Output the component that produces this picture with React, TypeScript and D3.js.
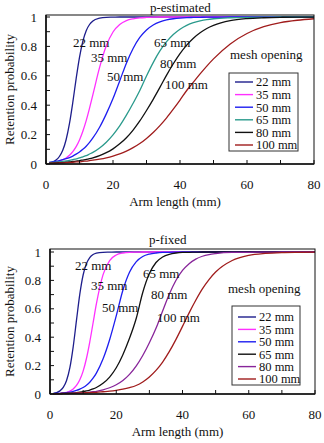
import React from 'react';
import * as d3 from 'd3';

// arm lengths (mm) at which every retention curve is sampled
const ARM_LENGTH = [1, 2, 3, 4, 5, 6, 7, 8, 9, 10, 11, 12, 13, 14,
  16, 18, 20, 22, 24, 26, 28, 30, 32, 34, 36, 38, 40, 42, 44, 46, 48, 50,
  55, 60, 65, 70, 75, 80];

const MESH = ['22 mm', '35 mm', '50 mm', '65 mm', '80 mm', '100 mm'];

// p-estimated
const EST_22 = [0.008, 0.014, 0.027, 0.051, 0.093, 0.165, 0.274, 0.419, 0.581, 0.726, 0.835, 0.907, 0.949, 0.973,
  0.992, 0.998, 0.999, 1, 1, 1, 1, 1, 1, 1, 1, 1, 1, 1, 1, 1, 1, 1,
  1, 1, 1, 1, 1, 1];
const EST_35 = [0.006, 0.009, 0.014, 0.020, 0.029, 0.041, 0.059, 0.084, 0.118, 0.164, 0.223, 0.295, 0.380, 0.472,
  0.657, 0.804, 0.898, 0.949, 0.976, 0.988, 0.994, 0.997, 0.999, 1, 1, 1, 1, 1, 1, 1, 1, 1,
  1, 1, 1, 1, 1, 1];
const EST_50 = [0.012, 0.015, 0.019, 0.023, 0.029, 0.036, 0.044, 0.054, 0.067, 0.082, 0.100, 0.121, 0.147, 0.177,
  0.250, 0.341, 0.445, 0.565, 0.686, 0.786, 0.861, 0.912, 0.946, 0.967, 0.980, 0.988, 0.993, 0.996, 0.997, 0.998, 0.999, 0.999,
  1, 1, 1, 1, 1, 1];
const EST_65 = [0.009, 0.011, 0.012, 0.015, 0.018, 0.021, 0.025, 0.029, 0.035, 0.041, 0.049, 0.057, 0.068, 0.079,
  0.109, 0.148, 0.198, 0.259, 0.332, 0.413, 0.500, 0.599, 0.690, 0.769, 0.832, 0.881, 0.917, 0.943, 0.961, 0.973, 0.982, 0.988,
  0.995, 0.998, 0.999, 1, 1, 1];
const EST_80 = [0.006, 0.006, 0.008, 0.009, 0.010, 0.012, 0.014, 0.017, 0.020, 0.023, 0.027, 0.031, 0.036, 0.042,
  0.057, 0.077, 0.103, 0.137, 0.179, 0.231, 0.293, 0.364, 0.440, 0.521, 0.605, 0.682, 0.751, 0.809, 0.856, 0.893, 0.922, 0.943,
  0.975, 0.989, 0.995, 0.998, 0.999, 0.999];
const EST_100 = [0.005, 0.006, 0.006, 0.007, 0.008, 0.009, 0.011, 0.012, 0.014, 0.015, 0.018, 0.020, 0.023, 0.026,
  0.033, 0.042, 0.054, 0.069, 0.088, 0.111, 0.139, 0.174, 0.214, 0.261, 0.314, 0.373, 0.435, 0.500, 0.557, 0.613, 0.666, 0.715,
  0.817, 0.888, 0.934, 0.962, 0.978, 0.988];

// p-fixed
const FIX_22 = [0.005, 0.010, 0.022, 0.046, 0.095, 0.185, 0.332, 0.520, 0.703, 0.838, 0.918, 0.961, 0.982, 0.992,
  0.998, 0.999, 1, 1, 1, 1, 1, 1, 1, 1, 1, 1, 1, 1, 1, 1, 1, 1,
  1, 1, 1, 1, 1, 1];
const FIX_35 = [0.001, 0.002, 0.004, 0.007, 0.012, 0.021, 0.036, 0.060, 0.100, 0.161, 0.250, 0.366, 0.500, 0.634,
  0.839, 0.940, 0.979, 0.993, 0.998, 0.999, 1, 1, 1, 1, 1, 1, 1, 1, 1, 1, 1, 1,
  1, 1, 1, 1, 1, 1];
const FIX_50 = [0.003, 0.004, 0.005, 0.007, 0.010, 0.013, 0.018, 0.025, 0.034, 0.046, 0.062, 0.083, 0.111, 0.147,
  0.246, 0.382, 0.550, 0.731, 0.858, 0.931, 0.968, 0.985, 0.993, 0.997, 0.998, 0.999, 1, 1, 1, 1, 1, 1,
  1, 1, 1, 1, 1, 1];
const FIX_65 = [0.002, 0.002, 0.003, 0.004, 0.005, 0.006, 0.008, 0.010, 0.013, 0.017, 0.022, 0.028, 0.036, 0.046,
  0.075, 0.119, 0.185, 0.277, 0.392, 0.530, 0.715, 0.848, 0.926, 0.965, 0.984, 0.993, 0.997, 0.998, 0.999, 1, 1, 1,
  1, 1, 1, 1, 1, 1];
const FIX_80 = [0.001, 0.002, 0.002, 0.002, 0.003, 0.004, 0.005, 0.006, 0.007, 0.008, 0.010, 0.013, 0.016, 0.019,
  0.029, 0.044, 0.065, 0.095, 0.138, 0.196, 0.271, 0.361, 0.463, 0.584, 0.702, 0.799, 0.870, 0.918, 0.950, 0.970, 0.982, 0.989,
  0.997, 0.998, 0.999, 1, 1, 1];
const FIX_100 = [0.002, 0.003, 0.003, 0.004, 0.004, 0.005, 0.005, 0.006, 0.007, 0.008, 0.009, 0.010, 0.011, 0.012,
  0.016, 0.020, 0.026, 0.034, 0.045, 0.060, 0.085, 0.120, 0.166, 0.225, 0.298, 0.383, 0.476, 0.571, 0.660, 0.740, 0.806, 0.859,
  0.940, 0.976, 0.990, 0.996, 0.998, 0.999];

const Y_TICKS = [0, 0.2, 0.4, 0.6, 0.8, 1];
const X_TICKS = [0, 20, 40, 60, 80];

const EST_COLORS = ['#1e1e8c', '#ff30ff', '#1e1ef0', '#2a9a8c', '#111111', '#a01c1c'];
const FIX_COLORS = ['#1e1e8c', '#ff30ff', '#1e1ef0', '#111111', '#88259a', '#a01c1c'];

const FONT = '"Liberation Serif", "Times New Roman", serif';

type Frame = { left: number; right: number; top: number; y1: number; bottom: number };

function Panel({ title, titleX, titleY, series, colors, frame, curveLabels, legend, meshAt }: any) {
  const f: Frame = frame;
  const x = d3.scaleLinear().domain([0, 80]).range([f.left, f.right]);
  const y = d3.scaleLinear().domain([0, 1]).range([f.bottom, f.y1]);
  const line = d3.line<number>()
    .x((_, i) => x(ARM_LENGTH[i]))
    .y(d => y(d))
    .curve(d3.curveMonotoneX);

  const minorY = d3.range(0, 11).map(i => i / 10);
  const minorX = d3.range(0, 9).map(i => i * 10);
  const midY = (f.top + f.bottom) / 2;

  return (
    <g fontFamily={FONT} fontSize={13} fill="#111">
      <text x={titleX} y={titleY}>{title}</text>

      {series.map((vals: number[], i: number) => (
        <path key={i} d={line(vals) || ''} fill="none" stroke={colors[i]} strokeWidth={1.3} />
      ))}

      {/* inward ticks */}
      {minorY.map(t => (
        <line key={'y' + t} x1={f.left} x2={f.left + 4} y1={y(t)} y2={y(t)} stroke="#111" />
      ))}
      {minorX.map(t => (
        <line key={'x' + t} x1={x(t)} x2={x(t)} y1={f.bottom} y2={f.bottom - 4} stroke="#111" />
      ))}

      <rect x={f.left} y={f.top} width={f.right - f.left} height={f.bottom - f.top}
        fill="none" stroke="#111" strokeWidth={1} />
      <line x1={f.left} x2={f.left} y1={f.top} y2={f.bottom} stroke="#111" strokeWidth={1.6} />
      <line x1={f.left} x2={f.right} y1={f.bottom} y2={f.bottom} stroke="#111" strokeWidth={1.6} />

      {Y_TICKS.map(t => (
        <text key={'yl' + t} x={f.left - 9} y={y(t)} dy="0.35em" textAnchor="end">{t}</text>
      ))}
      {X_TICKS.map(t => (
        <text key={'xl' + t} x={x(t)} y={f.bottom + 25} textAnchor="middle">{t}</text>
      ))}

      <text x={(f.left + f.right) / 2 - 5} y={f.bottom + 42} textAnchor="middle">Arm length (mm)</text>
      <text transform={`translate(9,${midY}) rotate(-90)`} textAnchor="middle" dy="0.35em">
        Retention probability
      </text>

      {curveLabels.map((p: number[], i: number) => (
        <text key={'cl' + i} x={p[0]} y={p[1]} dy="0.35em">{MESH[i]}</text>
      ))}

      <text x={meshAt[0]} y={meshAt[1]} dy="0.35em">mesh opening</text>

      <rect x={legend.x} y={legend.y} width={legend.w} height={legend.h} fill="#fff" stroke="#333" strokeWidth={1} />
      {MESH.map((m, i) => {
        const ry = legend.y + legend.first + i * legend.step;
        return (
          <g key={'lg' + m}>
            <line x1={legend.x + 6} x2={legend.x + 24} y1={ry} y2={ry} stroke={colors[i]} strokeWidth={1.4} />
            <text x={legend.x + 27} y={ry} dy="0.35em" fontSize={12.5}>{m}</text>
          </g>
        );
      })}
    </g>
  );
}

export default function App() {
  return (
    <svg width={324} height={443} style={{ position: 'absolute', left: 0, top: 0, background: '#fff' }}>
      <Panel
        title="p-estimated" titleX={150} titleY={12}
        series={[EST_22, EST_35, EST_50, EST_65, EST_80, EST_100]}
        colors={EST_COLORS}
        frame={{ left: 46, right: 314, top: 15, y1: 17, bottom: 164 }}
        curveLabels={[[73, 42], [91, 57], [107, 76], [154, 42], [160, 63], [165, 84]]}
        meshAt={[230, 54]}
        legend={{ x: 229, y: 73, w: 69, h: 78, first: 9, step: 12.6 }}
      />
      <Panel
        title="p-fixed" titleX={149} titleY={244}
        series={[FIX_22, FIX_35, FIX_50, FIX_65, FIX_80, FIX_100]}
        colors={FIX_COLORS}
        frame={{ left: 50, right: 315, top: 249, y1: 252, bottom: 394 }}
        curveLabels={[[75, 265], [91, 285], [102, 307], [143, 273], [151, 294], [157, 317]]}
        meshAt={[228, 288]}
        legend={{ x: 232, y: 306, w: 68, h: 79, first: 11, step: 12.4 }}
      />
    </svg>
  );
}
